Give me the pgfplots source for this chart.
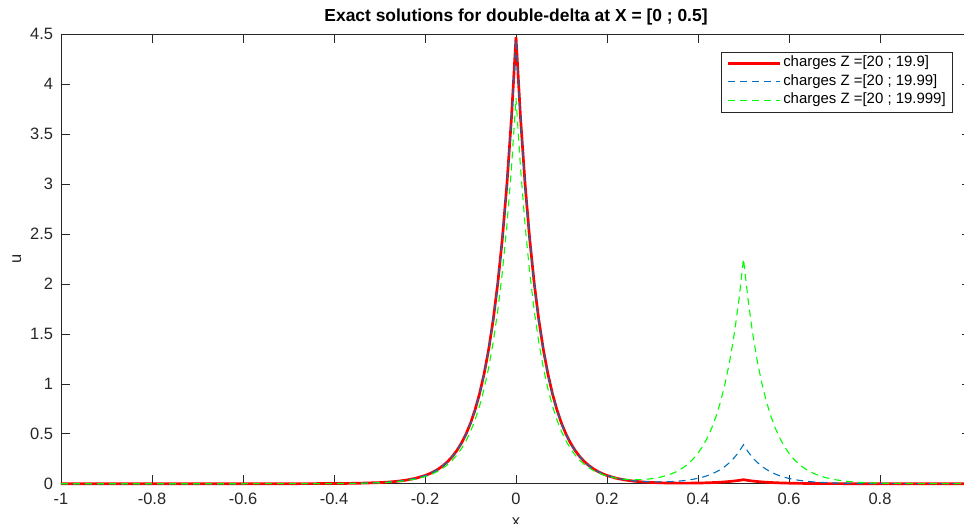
\documentclass[border=0pt]{standalone}
\usepackage{fontspec}
\setmainfont{Liberation Sans}
\usepackage{pgfplots}
\pgfplotsset{compat=1.18}
\usepackage{pgfplotstable}
\definecolor{mblue}{rgb}{0,0.447,0.741}
\definecolor{mgreen}{rgb}{0,1,0}
\definecolor{axgray}{rgb}{0.15,0.15,0.15}
\pgfplotstableread{
x r b g
-1 0 0 0
-0.6 0 0 0
-0.5 0.0002 0.0002 0.0002
-0.4 0.0015 0.0015 0.0013
-0.35 0.0041 0.0041 0.0035
-0.3 0.0111 0.0110 0.0096
-0.28 0.0165 0.0165 0.0143
-0.26 0.0247 0.0246 0.0213
-0.24 0.0368 0.0366 0.0318
-0.22 0.0549 0.0546 0.0474
-0.2 0.0819 0.0815 0.0707
-0.19 0.1000 0.0996 0.0864
-0.18 0.1221 0.1216 0.1055
-0.17 0.1492 0.1485 0.1288
-0.16 0.1822 0.1814 0.1573
-0.15 0.2225 0.2216 0.1922
-0.14 0.2718 0.2706 0.2347
-0.13 0.3320 0.3305 0.2867
-0.12 0.4055 0.4037 0.3502
-0.11 0.4953 0.4931 0.4277
-0.1 0.6050 0.6022 0.5224
-0.09 0.7389 0.7356 0.6381
-0.08 0.9025 0.8984 0.7793
-0.07 1.1023 1.0974 0.9519
-0.06 1.3463 1.3403 1.1626
-0.05 1.6444 1.6371 1.4200
-0.04 2.0085 1.9995 1.7344
-0.03 2.4532 2.4422 2.1184
-0.02 2.9963 2.9829 2.5874
-0.01 3.6597 3.6434 3.1603
0 4.47 4.45 3.86
0.01 3.6597 3.6434 3.1603
0.02 2.9963 2.9829 2.5874
0.03 2.4532 2.4422 2.1184
0.04 2.0085 1.9995 1.7344
0.05 1.6444 1.6371 1.4200
0.06 1.3463 1.3403 1.1626
0.07 1.1023 1.0974 0.9519
0.08 0.9025 0.8984 0.7793
0.09 0.7389 0.7356 0.6381
0.1 0.6050 0.6022 0.5224
0.11 0.4953 0.4931 0.4277
0.12 0.4055 0.4037 0.3502
0.13 0.3320 0.3305 0.2867
0.14 0.2718 0.2706 0.2347
0.15 0.2225 0.2216 0.1943
0.16 0.1822 0.1814 0.1598
0.17 0.1492 0.1485 0.1319
0.18 0.1221 0.1216 0.1092
0.19 0.1000 0.0996 0.0910
0.2 0.0820 0.0825 0.0763
0.22 0.0550 0.0560 0.0557
0.24 0.0370 0.0388 0.0442
0.26 0.0250 0.0278 0.0398
0.28 0.0170 0.0213 0.0419
0.3 0.0118 0.0181 0.0508
0.32 0.0085 0.0181 0.0679
0.34 0.0066 0.0209 0.0960
0.35 0.0061 0.0235 0.1155
0.36 0.0057 0.0270 0.1397
0.37 0.0057 0.0317 0.1695
0.38 0.0058 0.0376 0.2060
0.39 0.0062 0.0450 0.2509
0.4 0.0069 0.0543 0.3058
0.41 0.0078 0.0657 0.3730
0.42 0.0091 0.0797 0.4552
0.43 0.0107 0.0970 0.5555
0.44 0.0127 0.1182 0.6783
0.45 0.0152 0.1440 0.8282
0.46 0.0184 0.1756 1.0114
0.47 0.0223 0.2143 1.2351
0.48 0.0271 0.2617 1.5085
0.49 0.0329 0.3195 1.8423
0.5 0.0400 0.3902 2.2502
0.51 0.0328 0.3194 1.8422
0.52 0.0268 0.2615 1.5083
0.53 0.0220 0.2140 1.2349
0.54 0.0180 0.1752 1.0110
0.55 0.0147 0.1435 0.8278
0.56 0.0120 0.1175 0.6777
0.57 0.0099 0.0962 0.5548
0.58 0.0081 0.0787 0.4543
0.59 0.0066 0.0645 0.3719
0.6 0.0054 0.0528 0.3045
0.61 0.0044 0.0432 0.2493
0.62 0.0036 0.0354 0.2041
0.63 0.0030 0.0290 0.1671
0.64 0.0024 0.0237 0.1368
0.65 0.0020 0.0194 0.1120
0.66 0.0016 0.0159 0.0917
0.68 0.0011 0.0107 0.0615
0.7 0.0007 0.0071 0.0412
0.72 0.0005 0.0048 0.0276
0.74 0.0003 0.0032 0.0185
0.76 0.0002 0.0022 0.0124
0.78 0.0001 0.0014 0.0083
0.8 0.0001 0.0010 0.0056
0.85 0 0.0004 0.0021
0.9 0 0.0001 0.0008
0.99 0 0 0
}\datatable
\begin{document}
\begin{tikzpicture}
\begin{axis}[
  scale only axis, width=910bp, height=449.5bp,
  xmin=-1, xmax=1, ymin=0, ymax=4.5,
  xtick={-1,-0.8,-0.6,-0.4,-0.2,0,0.2,0.4,0.6,0.8,1},
  ytick={0,0.5,1,1.5,2,2.5,3,3.5,4,4.5},
  /pgf/number format/assume math mode=true,
  tick label style={font=\fontsize{16.5}{19}\selectfont, text=axgray},
  xticklabel style={yshift=-5.5bp},
  yticklabel style={xshift=-4.5bp},
  major tick length=9bp,
  tick align=inside,
  tick style={axgray, line width=0.6bp},
  axis line style={axgray, line width=0.6bp},
  clip=false,
  title={\textbf{Exact solutions for double-delta at X = [0 ; 0.5]}},
  title style={font=\fontsize{17.5}{20}\selectfont, at={(axis description cs:0.5,1.0153)}, anchor=base},
  xlabel={x},
  xlabel style={font=\fontsize{16.5}{19}\selectfont, text=axgray, at={(axis description cs:0.5,-0.0954)}, anchor=base},
  ylabel={u},
  ylabel style={font=\fontsize{16.5}{19}\selectfont, text=axgray, at={(axis description cs:-0.0484,0.5)}, anchor=center},
  legend style={at={(axis description cs:0.9802,0.9613)}, anchor=north east,
    draw=axgray, line width=0.6bp, font=\fontsize{15}{18}\selectfont,
    inner xsep=5bp, inner ysep=4bp, row sep=3.5bp,
    nodes={inner xsep=2bp, inner ysep=0bp, text height=11bp, text depth=4bp}},
  legend cell align=left,
  legend image code/.code={\draw[#1] (0bp,0bp) -- (52bp,0bp);},
]
\addplot[red, line width=2.7bp] table[x=x, y=r] {\datatable};
\addlegendentry{charges Z =[20 ; 19.9]}
\addplot[mblue, line width=1.1bp, dash pattern=on 7bp off 5bp] table[x=x, y=b] {\datatable};
\addlegendentry{charges Z =[20 ; 19.99]}
\addplot[mgreen, line width=1.1bp, dash pattern=on 7bp off 5bp] table[x=x, y=g] {\datatable};
\addlegendentry{charges Z =[20 ; 19.999]\hspace{22bp}}
\end{axis}
\pgfresetboundingbox
\path[use as bounding box] ([shift={(-61bp,-40.3bp)}]current axis.south west) rectangle ([shift={(903bp,483.7bp)}]current axis.south west);
\end{tikzpicture}
\end{document}
